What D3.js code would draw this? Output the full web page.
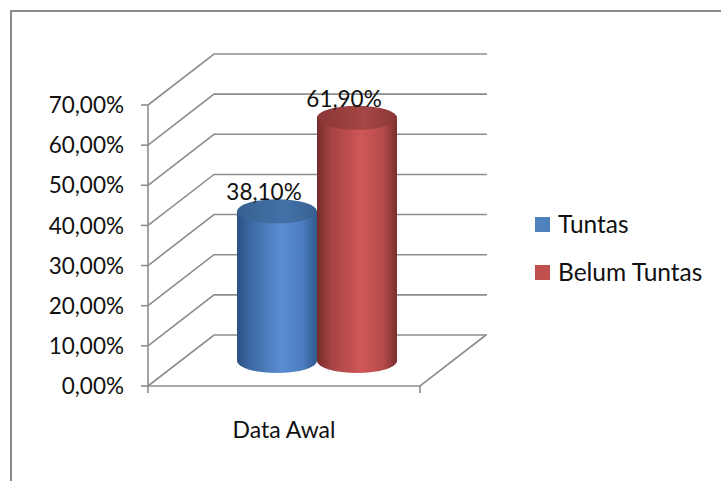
<!DOCTYPE html>
<html>
<head>
<meta charset="utf-8">
<script src="https://cdn.jsdelivr.net/npm/d3@7/dist/d3.min.js"></script>
<style>
  html, body { margin: 0; padding: 0; background: #fff; }
  svg { display: block; }
  text { font-family: Lato, "Open Sans", sans-serif; fill: #111; }
</style>
</head>
<body>
<svg id="chart" width="721" height="481"></svg>
<script>
// Chart data
const categories = ["Data Awal"];
const seriesNames = ["Tuntas", "Belum Tuntas"];
const seriesValues = [38.1, 61.9];          // percent, one value per series for "Data Awal"
const tickValues = [0, 10, 20, 30, 40, 50, 60, 70];
const seriesColors = ["#4f81bd", "#c0504d"];

const svg = d3.select("#chart");
const fmt = v => d3.format(".2f")(v).replace(".", ",") + "%";

// 3D layout: front plane, depth offset to the back wall
const depth = { dx: 66, dy: -51 };
const yFront = d3.scaleLinear().domain([0, 70]).range([386, 105]);
const xFront = d3.scaleBand().domain(categories).range([148, 420]);
// cylinders stand in the middle of the depth
const yMid = d3.scaleLinear().domain([0, 70]).range([361, 86]);
const gridColor = "#8d8d8d";

// outer frame (left and top edges visible)
svg.append("path")
  .attr("d", "M11,481 L11,11 L721,11")
  .attr("fill", "none").attr("stroke", "#8a8a8a").attr("stroke-width", 2);

// gridlines: side wall diagonal + back wall horizontal
const x0 = xFront.range()[0], x1 = xFront.range()[1];
const grid = svg.append("g").attr("fill", "none").attr("stroke", gridColor).attr("stroke-width", 1.6);
tickValues.forEach(t => {
  const y = yFront(t);
  grid.append("path").attr("d",
    `M${x0},${y} L${x0 + depth.dx},${y + depth.dy} L${x1 + depth.dx + 1},${y + depth.dy}`);
});
// floor front edge and right diagonal
grid.append("path").attr("d",
  `M${x0},${yFront(0)} L${x1},${yFront(0)} L${x1 + depth.dx},${yFront(0) + depth.dy}`);

// front value axis
const axis = svg.append("g").attr("stroke", gridColor).attr("stroke-width", 1.6);
axis.append("line").attr("x1", x0).attr("x2", x0).attr("y1", yFront(70)).attr("y2", yFront(0) + 7);
axis.append("line").attr("x1", x1).attr("x2", x1).attr("y1", yFront(0)).attr("y2", yFront(0) + 7);
tickValues.forEach(t => {
  axis.append("line").attr("x1", x0 - 7).attr("x2", x0).attr("y1", yFront(t)).attr("y2", yFront(t));
});
svg.append("g").selectAll("text").data(tickValues).join("text")
  .attr("x", 124).attr("y", d => yFront(d)).attr("dy", "0.36em")
  .attr("text-anchor", "end").attr("font-size", 22.5)
  .text(d => fmt(d));

// category label
svg.append("text")
  .attr("x", xFront("Data Awal") + xFront.bandwidth() / 2)
  .attr("y", 438).attr("text-anchor", "middle").attr("font-size", 23)
  .text(categories[0]);

// gradients for cylinder shading
const defs = svg.append("defs");
const shades = [
  { body: ["#2c5282", "#3d6aa5", "#5a8dd2", "#4a7cbf", "#315a8e"], top: ["#36608f", "#4472a8"] },
  { body: ["#762b2b", "#a64343", "#d05757", "#b84b4b", "#7a2f2f"], top: ["#8a3636", "#a64646"] }
];
shades.forEach((s, i) => {
  const g = defs.append("linearGradient").attr("id", "body" + i).attr("x1", 0).attr("x2", 1).attr("y1", 0).attr("y2", 0);
  [0, 0.18, 0.55, 0.82, 1].forEach((o, k) => g.append("stop").attr("offset", o).attr("stop-color", s.body[k]));
  const t = defs.append("linearGradient").attr("id", "top" + i).attr("x1", 0).attr("x2", 1).attr("y1", 0).attr("y2", 0);
  t.append("stop").attr("offset", 0).attr("stop-color", s.top[0]);
  t.append("stop").attr("offset", 0.6).attr("stop-color", s.top[1]);
  t.append("stop").attr("offset", 1).attr("stop-color", s.top[0]);
});

// cylinders, side by side in the middle of the depth
const midCenter = xFront("Data Awal") + xFront.bandwidth() / 2 + depth.dx / 2;
const xSeries = d3.scaleBand().domain(seriesNames).range([midCenter - 80, midCenter + 80]);
const rx = xSeries.bandwidth() / 2, ry = 12;

const bars = svg.append("g");
seriesNames.forEach((name, i) => {
  const v = seriesValues[i];
  const cx = xSeries(name) + rx;
  const yTop = yMid(v), yBase = yMid(0);
  const g = bars.append("g");
  g.append("path")
    .attr("d", `M${cx - rx},${yTop} L${cx - rx},${yBase} A${rx},${ry} 0 0 0 ${cx + rx},${yBase} L${cx + rx},${yTop} Z`)
    .attr("fill", `url(#body${i})`);
  g.append("ellipse")
    .attr("cx", cx).attr("cy", yTop).attr("rx", rx).attr("ry", ry)
    .attr("fill", `url(#top${i})`);
  // value label
  svg.append("text")
    .attr("x", cx - 13).attr("y", yTop - 11)
    .attr("text-anchor", "middle").attr("font-size", 22.5)
    .text(fmt(v));
});

// legend
const legend = svg.append("g");
seriesNames.forEach((name, i) => {
  const y = 217 + i * 48;
  legend.append("rect").attr("x", 535).attr("y", y).attr("width", 15).attr("height", 15)
    .attr("fill", seriesColors[i]);
  legend.append("text").attr("x", 558).attr("y", y + 7.5).attr("dy", "0.36em")
    .attr("font-size", 24.5).text(name);
});
</script>
</body>
</html>
